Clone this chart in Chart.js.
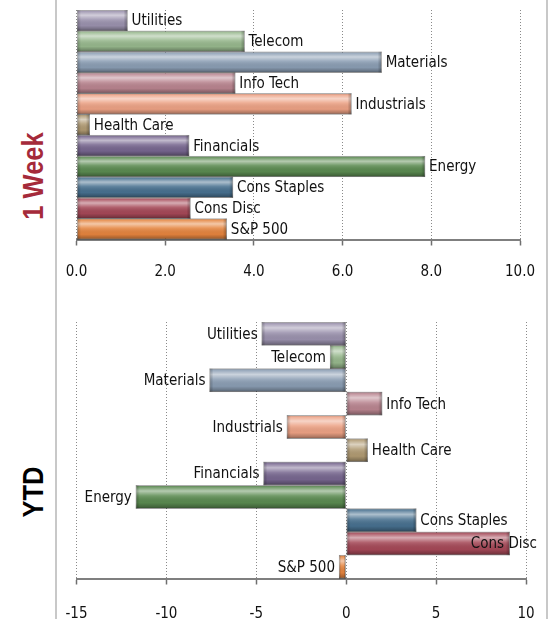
<!DOCTYPE html>
<html>
<head>
<meta charset="utf-8">
<script src="https://cdn.jsdelivr.net/npm/chart.js@4.4.1/dist/chart.umd.min.js"></script>
<style>
  html, body { margin: 0; padding: 0; background: #fff; overflow: hidden; }
  #wrap { position: relative; width: 550px; height: 619px; overflow: hidden; }
  .vline { position: absolute; top: 0; width: 2px; height: 619px; background: #c8c8c8; }
  .side {
    position: absolute; left: 33px;
    font: bold 29px "Liberation Sans", Arial, sans-serif;
    white-space: nowrap;
    transform: translate(-50%, -50%) rotate(-90deg) scaleX(0.88);
  }
  .box { position: absolute; left: 0; width: 550px; }
</style>
</head>
<body>
<div id="wrap">
  <div class="vline" style="left:55px"></div>
  <div class="vline" style="left:546px"></div>
  <div class="side" style="top:176px;color:#a52a3a">1 Week</div>
  <div class="side" style="top:492px;color:#000">YTD</div>
  <div class="box" style="top:0;height:300px"><canvas id="weekChart"></canvas></div>
  <div class="box" style="top:300px;height:350px"><canvas id="ytdChart"></canvas></div>
</div>
<script>
// sectors, top to bottom
const sectors = ['Utilities', 'Telecom', 'Materials', 'Info Tech', 'Industrials', 'Health Care',
  'Financials', 'Energy', 'Cons Staples', 'Cons Disc', 'S&P 500'];

// % change
const weekValues = [1.15, 3.79, 6.88, 3.58, 6.2, 0.3, 2.54, 7.86, 3.53, 2.57, 3.39];
const ytdValues = [-4.7, -0.9, -7.6, 2.0, -3.3, 1.2, -4.6, -11.7, 3.9, 9.1, -0.4];

const weekTickLabels = ['0.0', '2.0', '4.0', '6.0', '8.0', '10.0'];
const ytdTickLabels = ['-15', '-10', '-5', '0', '5', '10'];

const sectorColors = ['#9a91ad', '#96b78c', '#8a9db3', '#b9848f', '#eca184', '#b09a72',
  '#77668f', '#5a8a50', '#47708f', '#a54857', '#e5843e'];

const narrowFont = '"Liberation Sans Narrow", "DejaVu Sans Condensed", "Liberation Sans", sans-serif';

// glossy shading on top of each bar
const glossPlugin = {
  id: 'gloss',
  afterDatasetsDraw(chart) {
    const ctx = chart.ctx;
    chart.getDatasetMeta(0).data.forEach(bar => {
      const left = Math.min(bar.x, bar.base), right = Math.max(bar.x, bar.base);
      const top = bar.y - bar.height / 2, h = bar.height;
      const g = ctx.createLinearGradient(0, top, 0, top + h);
      g.addColorStop(0, 'rgba(0,0,0,0.25)');
      g.addColorStop(0.08, 'rgba(255,255,255,0.15)');
      g.addColorStop(0.25, 'rgba(255,255,255,0.55)');
      g.addColorStop(0.45, 'rgba(255,255,255,0.15)');
      g.addColorStop(0.75, 'rgba(0,0,0,0.03)');
      g.addColorStop(0.92, 'rgba(0,0,0,0.25)');
      g.addColorStop(1, 'rgba(0,0,0,0.45)');
      ctx.save();
      ctx.fillStyle = g;
      ctx.fillRect(left, top, right - left, h);
      // darker ends
      const w = Math.min(4, (right - left) / 3);
      const gl = ctx.createLinearGradient(left, 0, left + w, 0);
      gl.addColorStop(0, 'rgba(0,0,0,0.25)');
      gl.addColorStop(1, 'rgba(0,0,0,0)');
      ctx.fillStyle = gl;
      ctx.fillRect(left, top, w, h);
      const gr = ctx.createLinearGradient(right - w, 0, right, 0);
      gr.addColorStop(0, 'rgba(0,0,0,0)');
      gr.addColorStop(1, 'rgba(0,0,0,0.3)');
      ctx.fillStyle = gr;
      ctx.fillRect(right - w, top, w, h);
      ctx.restore();
    });
  }
};

// sector name at the end of each bar
const endLabelPlugin = {
  id: 'endLabels',
  afterDatasetsDraw(chart) {
    const ctx = chart.ctx;
    const values = chart.data.datasets[0].data;
    ctx.save();
    ctx.font = '15px ' + narrowFont;
    ctx.fillStyle = '#111';
    ctx.textBaseline = 'middle';
    chart.getDatasetMeta(0).data.forEach((bar, i) => {
      const text = chart.data.labels[i];
      const tw = ctx.measureText(text).width;
      let x;
      if (values[i] >= 0) {
        x = bar.x + 4;
        if (x + tw > 537) x = 537 - tw;
      } else {
        x = bar.x - 4 - tw;
      }
      ctx.textAlign = 'left';
      ctx.fillText(text, x, bar.y + 1);
    });
    ctx.restore();
  }
};

function makeChart(canvasId, values, min, max, step, tickLabels, tickPad, padding) {
  return new Chart(document.getElementById(canvasId), {
    type: 'bar',
    data: {
      labels: sectors,
      datasets: [{
        data: values,
        backgroundColor: sectorColors,
        borderColor: 'rgba(0,0,0,0.2)',
        borderWidth: 1,
        borderSkipped: false,
        barPercentage: 1,
        categoryPercentage: 1
      }]
    },
    options: {
      indexAxis: 'y',
      responsive: true,
      maintainAspectRatio: false,
      animation: false,
      layout: { padding: padding },
      plugins: {
        legend: { display: false },
        tooltip: { enabled: false }
      },
      scales: {
        y: { display: false },
        x: {
          min: min,
          max: max,
          // let layout.padding alone decide the side margins
          afterFit: scale => { scale.paddingLeft = 0; scale.paddingRight = 0; },
          grid: {
            color: '#8a8a8a',
            lineWidth: 1,
            tickLength: 6,
            tickColor: '#6f6f6f',
            tickWidth: 1.5,
            tickBorderDash: []
          },
          border: { display: true, color: '#7f7f7f', width: 2, dash: [1, 2] },
          ticks: {
            stepSize: step,
            padding: tickPad,
            color: '#111',
            font: { size: 15, family: narrowFont },
            maxRotation: 0,
            callback: (v, i) => tickLabels[i]
          }
        }
      }
    },
    plugins: [glossPlugin, endLabelPlugin]
  });
}

makeChart('weekChart', weekValues, 0, 10, 2, weekTickLabels, 17.5, { left: 76.5, right: 30, top: 10, bottom: 1.5 });
makeChart('ytdChart', ytdValues, -15, 10, 5, ytdTickLabels, 21, { left: 76.5, right: 24, top: 22, bottom: 5.5 });
</script>
</body>
</html>
